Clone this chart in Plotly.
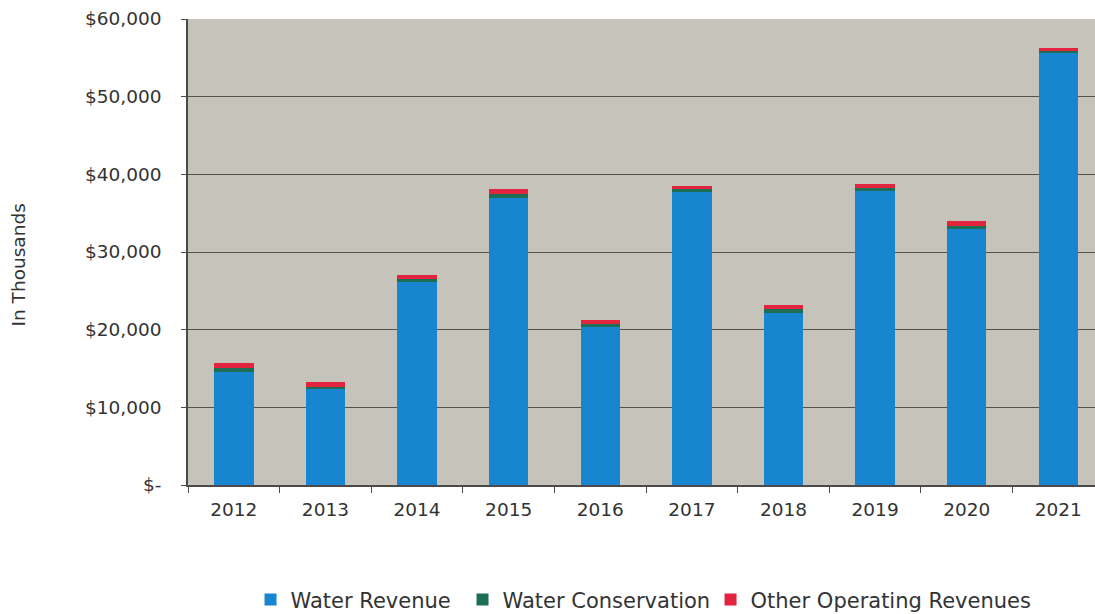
import plotly.graph_objects as go

years = ["2012", "2013", "2014", "2015", "2016", "2017", "2018", "2019", "2020", "2021"]
water_revenue = [14600, 12300, 26100, 37000, 20300, 37800, 22200, 37800, 32900, 55700]
water_conservation = [450, 350, 400, 450, 450, 250, 450, 400, 450, 200]
other_operating = [600, 600, 600, 700, 550, 400, 550, 600, 600, 350]

y_tickvals = [0, 10000, 20000, 30000, 40000, 50000, 60000]
y_ticktext = ["$-", "$10,000", "$20,000", "$30,000", "$40,000", "$50,000", "$60,000"]

FONT = "DejaVu Sans, Arial, sans-serif"
TEXT = "#333333"

fig = go.Figure()
fig.add_trace(go.Bar(name="Water Revenue", x=years, y=water_revenue, legend="legend",
                     marker=dict(color="#1785d0", line=dict(width=0))))
fig.add_trace(go.Bar(name="Water Conservation", x=years, y=water_conservation, legend="legend2",
                     marker=dict(color="#1d6e55", line=dict(width=0))))
fig.add_trace(go.Bar(name="Other Operating Revenues", x=years, y=other_operating, legend="legend3",
                     marker=dict(color="#e3243f", line=dict(width=0))))


def legend_box(x):
    # one legend box per series so each entry sits at its own offset
    return dict(
        orientation="h",
        xref="container", yref="container",
        x=x, y=0.023, xanchor="left", yanchor="middle",
        font=dict(family=FONT, size=21, color=TEXT),
        itemwidth=30,
        bgcolor="rgba(0,0,0,0)",
    )


fig.update_layout(
    barmode="stack",
    bargap=0.57,
    width=1095, height=614,
    margin=dict(l=188, r=0, t=19, b=129),
    paper_bgcolor="white",
    plot_bgcolor="#c6c3ba",
    font=dict(family=FONT, size=18.5, color=TEXT),
    showlegend=True,
    legend=legend_box(0.2288),
    legend2=legend_box(0.4224),
    legend3=legend_box(0.6489),
    annotations=[dict(
        text="In Thousands", xref="paper", yref="paper",
        x=-0.187, y=0.472, xanchor="center", yanchor="middle",
        textangle=-90, showarrow=False,
        font=dict(family=FONT, size=18.5, color=TEXT),
    )],
)

fig.update_xaxes(
    type="category",
    range=[-0.5, 9.4],
    showline=True, linecolor="#4a4a4a", linewidth=1.5,
    ticks="outside", tickson="boundaries", ticklen=6, tickcolor="#4a4a4a",
    ticklabelstandoff=7,
    showgrid=False,
    tickfont=dict(family=FONT, size=18.5, color=TEXT),
)
fig.update_yaxes(
    range=[0, 60000],
    tickvals=y_tickvals, ticktext=y_ticktext,
    showline=True, linecolor="#4a4a4a", linewidth=1.5,
    ticks="outside", ticklen=5, tickcolor="#4a4a4a",
    ticklabelstandoff=16,
    showgrid=True, gridcolor="#55524c", gridwidth=1,
    zeroline=False,
    tickfont=dict(family=FONT, size=18.5, color=TEXT),
)

fig.write_html("out.html")
